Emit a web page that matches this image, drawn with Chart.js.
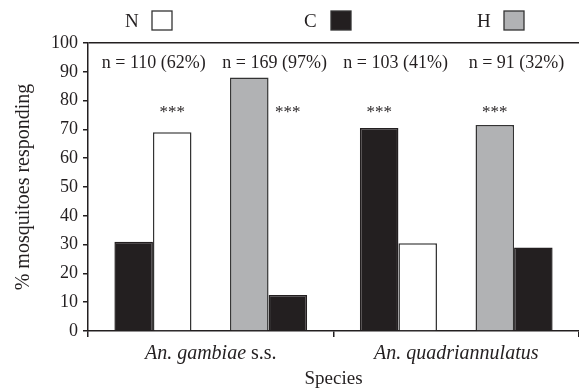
<!DOCTYPE html>
<html><head><meta charset="utf-8">
<script src="https://cdn.jsdelivr.net/npm/chart.js@4.4.1/dist/chart.umd.min.js"></script>
<style>html,body{margin:0;padding:0;background:#fff;} #wrap{width:579px;height:390px;}</style>
</head><body><div id="wrap"><canvas id="c" width="579" height="390"></canvas></div>
<script>
// ---- data ----
const categories = ['An. gambiae s.s.', 'An. quadriannulatus'];
const cVsN_C = [31, 70.5];     // C (black) in C vs N test
const cVsN_N = [69, 30.5];     // N (white) in C vs N test
const hVsC_H = [88, 71.5];     // H (grey) in H vs C test
const hVsC_C = [12.5, 29];     // C (black) in H vs C test
const sampleSizes = ['n = 110 (62%)', 'n = 169 (97%)', 'n = 103 (41%)', 'n = 91 (32%)'];
const sigMark = '***';
const sigBars = [[1, 4], [0, 3]]; // dataset index of marked bar, per species: [C vs N, H vs C]
const sigLevel = 76;
const legendItems = ['N', 'C', 'H'];

// ---- styles ----
const BLACK = '#231f20', GREY = '#b1b2b4', WHITE = '#ffffff';
const SERIF = "'Liberation Serif', 'Times New Roman', serif";
const legendFill = {N: WHITE, C: BLACK, H: GREY};

const annot = {
  id: 'annot',
  afterDraw(chart) {
    const c = chart.ctx, a = chart.chartArea;
    const xs = chart.scales.x, ys = chart.scales.y;
    c.save();
    c.fillStyle = BLACK;
    // legend
    const legX = [125, 304, 477];
    c.font = '19px ' + SERIF;
    c.textBaseline = 'alphabetic';
    c.textAlign = 'left';
    legendItems.forEach((k, i) => {
      c.fillStyle = BLACK;
      c.fillText(k, legX[i], 27);
      c.fillStyle = legendFill[k];
      c.fillRect(legX[i] + 27, 11, 20, 19);
      c.strokeStyle = '#333';
      c.lineWidth = 1.3;
      c.strokeRect(legX[i] + 27, 11, 20, 19);
    });
    // sample sizes
    c.fillStyle = BLACK;
    c.font = '18px ' + SERIF;
    c.textAlign = 'center';
    c.textBaseline = 'middle';
    sampleSizes.forEach((t, i) => {
      c.fillText(t, a.left + (a.right - a.left) * (0.134 + 0.2462 * i), 63);
    });
    // significance
    c.font = '17px ' + SERIF;
    sigBars.forEach((pair, ci) => {
      pair.forEach(di => {
        const el = chart.getDatasetMeta(di).data[ci];
        c.fillText(sigMark, el.x, ys.getPixelForValue(sigLevel));
      });
    });
    // category labels (italic genus/species, roman s.s.)
    c.textAlign = 'left';
    c.textBaseline = 'alphabetic';
    categories.forEach((lab, i) => {
      const cx = xs.getPixelForValue(i);
      let it = lab, rm = '';
      const m = lab.match(/^(.*?)( s\.s\.)$/);
      if (m) { it = m[1]; rm = m[2]; }
      c.font = 'italic 20px ' + SERIF;
      const w1 = c.measureText(it).width;
      c.font = '20px ' + SERIF;
      const w2 = c.measureText(rm).width;
      let x0 = cx - (w1 + w2) / 2;
      c.font = 'italic 20px ' + SERIF;
      c.fillText(it, x0, 359);
      c.font = '20px ' + SERIF;
      c.fillText(rm, x0 + w1, 359);
    });
    // axis titles
    c.textAlign = 'center';
    c.font = '19px ' + SERIF;
    c.fillText('Species', (a.left + a.right) / 2, 384);
    c.save();
    c.translate(24, (a.top + a.bottom) / 2);
    c.rotate(-Math.PI / 2);
    c.textBaseline = 'middle';
    c.font = '20px ' + SERIF;
    c.fillText('% mosquitoes responding', 0, 0);
    c.restore();
    c.restore();
  }
};

new Chart(document.getElementById('c'), {
  type: 'bar',
  data: {
    labels: categories,
    datasets: [
      {label: 'C', data: cVsN_C, backgroundColor: BLACK, borderColor: BLACK},
      {label: 'N', data: cVsN_N, backgroundColor: WHITE, borderColor: '#333'},
      {label: '', data: [null, null]},
      {label: 'H', data: hVsC_H, backgroundColor: GREY, borderColor: '#333'},
      {label: 'C', data: hVsC_C, backgroundColor: BLACK, borderColor: BLACK}
    ]
  },
  options: {
    responsive: false,
    animation: false,
    devicePixelRatio: 1,
    layout: {padding: {top: 43, right: 0, left: 0, bottom: 0}},
    datasets: {bar: {categoryPercentage: 0.785, barPercentage: 1, borderWidth: 1.5}},
    plugins: {legend: {display: false}, tooltip: {enabled: false}},
    scales: {
      x: {
        grid: {display: true, drawOnChartArea: false, drawTicks: true, tickLength: 6, color: BLACK, offset: true, lineWidth: 1.5},
        border: {display: true, color: BLACK, width: 1.5},
        ticks: {display: false},
        afterFit(s) { s.height = 59; }
      },
      y: {
        min: 0, max: 100,
        ticks: {stepSize: 10, color: BLACK, font: {family: SERIF, size: 18}, padding: 5},
        grid: {
          drawOnChartArea: true,
          color: c => (c.tick && c.tick.value === 100) ? BLACK : 'rgba(0,0,0,0)',
          tickColor: BLACK, tickLength: 5, lineWidth: 1.5
        },
        border: {display: true, color: BLACK, width: 1.5},
        afterFit(s) { s.width = 88; }
      }
    }
  },
  plugins: [annot]
});
</script>
</body></html>
